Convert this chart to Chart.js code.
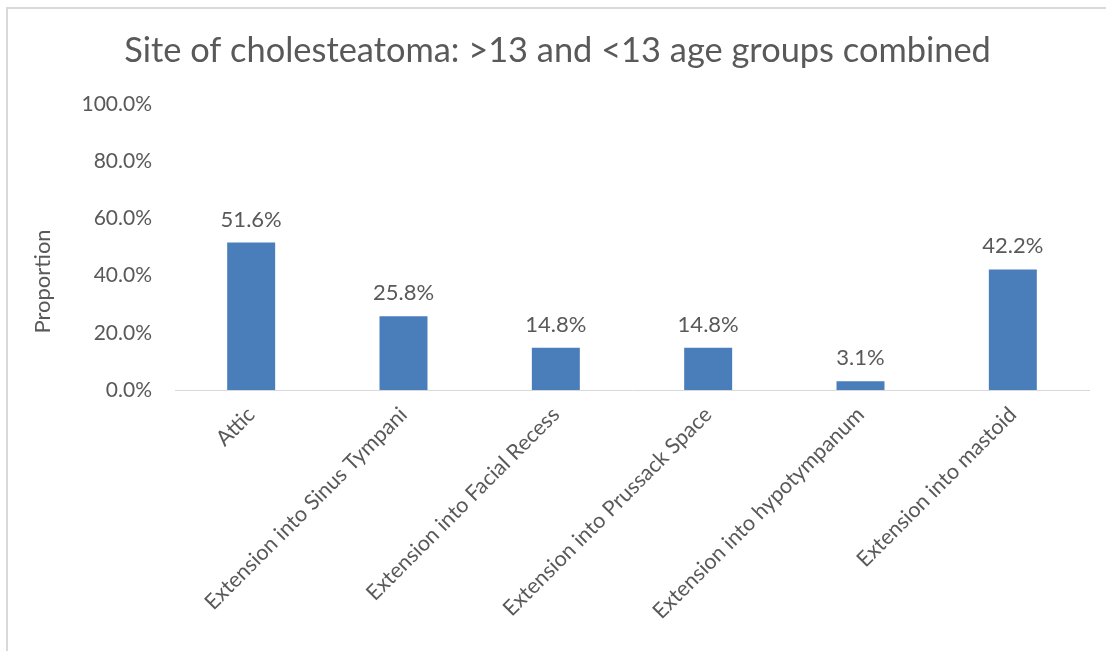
<!DOCTYPE html>
<html>
<head>
<meta charset="utf-8">
<script src="https://cdn.jsdelivr.net/npm/chart.js@4"></script>
<style>
  html, body { margin: 0; padding: 0; background: #ffffff; overflow: hidden; }
  #wrap { position: relative; width: 1106px; height: 651px; }
  #frame { position: absolute; left: 6px; top: 7px; width: 1200px; height: 700px;
           border-left: 2px solid #d9d9d9; border-top: 2px solid #d9d9d9; box-sizing: border-box; }
  canvas { position: absolute; left: 0; top: 0; }
</style>
</head>
<body>
<div id="wrap">
  <div id="frame"></div>
  <canvas id="c" width="1106" height="651"></canvas>
</div>
<script>
const categories = [
  "Attic",
  "Extension into Sinus Tympani",
  "Extension into Facial Recess",
  "Extension into Prussack Space",
  "Extension into hypotympanum",
  "Extension into mastoid"
];
const proportions = [51.6, 25.8, 14.8, 14.8, 3.1, 42.2];
const yTicks = [0, 20, 40, 60, 80, 100];
const titleText = "Site of cholesteatoma: >13 and <13 age groups combined";
const yTitle = "Proportion";

const FONT = "Lato, 'Open Sans', sans-serif";
const GRAY = "#595959";

const valueLabels = {
  id: 'valueLabels',
  afterDatasetsDraw(chart) {
    const ctx = chart.ctx;
    const meta = chart.getDatasetMeta(0);
    ctx.save();
    ctx.font = "22px " + FONT;
    ctx.fillStyle = GRAY;
    ctx.textAlign = 'center';
    ctx.textBaseline = 'alphabetic';
    meta.data.forEach((bar, i) => {
      const v = chart.data.datasets[0].data[i];
      ctx.fillText(v.toFixed(1) + '%', bar.x, bar.y - 16);
    });
    ctx.restore();
  }
};

const yAxisTitle = {
  id: 'yAxisTitle',
  afterDraw(chart) {
    const ctx = chart.ctx;
    const area = chart.chartArea;
    ctx.save();
    ctx.font = "22px " + FONT;
    ctx.fillStyle = GRAY;
    ctx.textAlign = 'center';
    ctx.textBaseline = 'middle';
    ctx.translate(43, area.top + (area.bottom - area.top) * 0.62);
    ctx.rotate(-Math.PI / 2);
    ctx.fillText(yTitle, 0, 0);
    ctx.restore();
  }
};

new Chart(document.getElementById('c'), {
  type: 'bar',
  data: {
    labels: categories,
    datasets: [{
      data: proportions,
      backgroundColor: '#4a7ebb',
      borderWidth: 0,
      barPercentage: 0.5,
      categoryPercentage: 0.63
    }]
  },
  options: {
    responsive: false,
    animation: false,
    events: [],
    layout: { padding: { left: 26, right: 17, top: 0, bottom: 0 } },
    plugins: {
      legend: { display: false },
      tooltip: { enabled: false },
      title: {
        display: true,
        text: titleText,
        color: GRAY,
        font: { family: FONT, size: 34.4, weight: 'normal', lineHeight: 1.2 },
        padding: { top: 30, bottom: 33 }
      }
    },
    scales: {
      x: {
        grid: { display: false, drawTicks: false },
        border: { display: true, color: '#d9d9d9', width: 1 },
        ticks: {
          color: GRAY,
          font: { family: FONT, size: 21.5 },
          minRotation: 45,
          maxRotation: 45,
          padding: 12,
          autoSkip: false
        },
        afterFit(scale) { scale.height = 261; }
      },
      y: {
        min: 0,
        max: 100,
        grid: { display: false, drawTicks: false },
        border: { display: false },
        afterBuildTicks(scale) { scale.ticks = yTicks.map(v => ({ value: v })); },
        ticks: {
          color: GRAY,
          font: { family: FONT, size: 21 },
          padding: 23,
          callback: v => Number(v).toFixed(1) + '%'
        },
        afterFit(scale) { scale.width = 149; }
      }
    }
  },
  plugins: [valueLabels, yAxisTitle]
});
</script>
</body>
</html>
